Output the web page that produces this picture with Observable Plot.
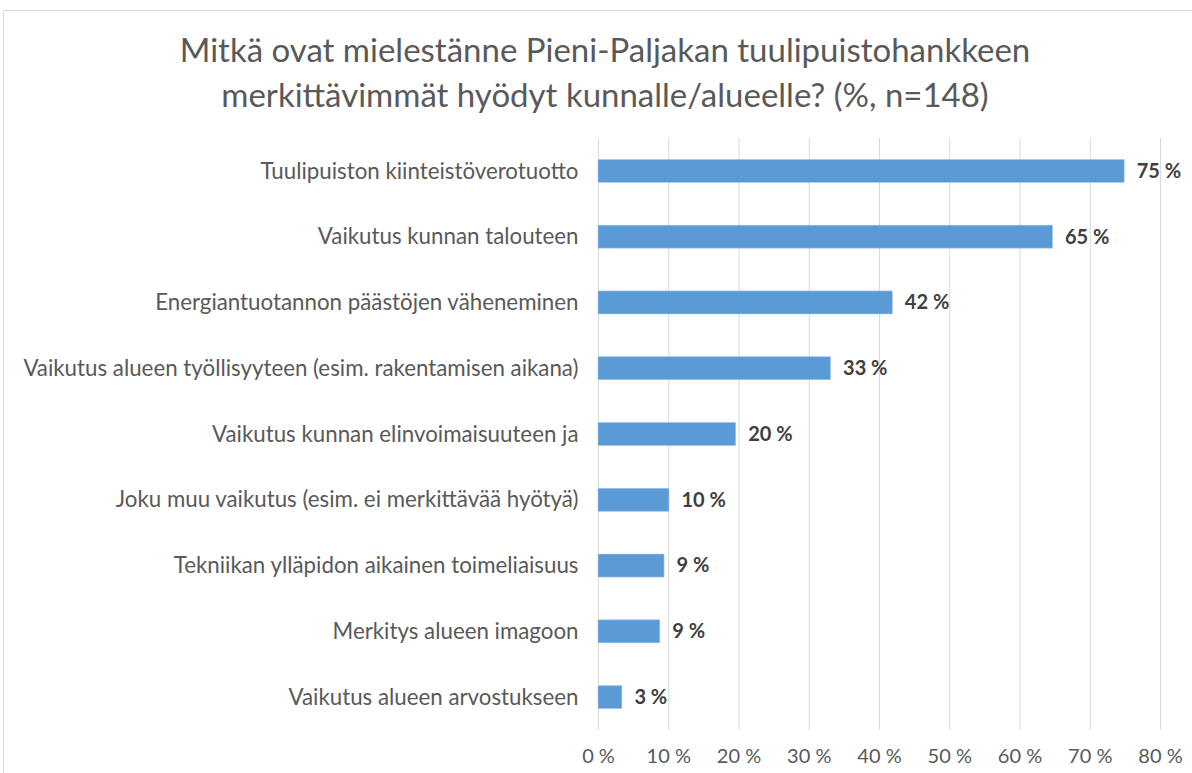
<!DOCTYPE html>
<html>
<head>
<meta charset="utf-8">
<script src="https://cdn.jsdelivr.net/npm/d3@7"></script>
<script src="https://cdn.jsdelivr.net/npm/@observablehq/plot@0.6"></script>
<style>
  html, body { margin: 0; padding: 0; background: #fff; overflow: hidden; }
  #frame { position: absolute; left: 3px; top: 10px; width: 1200px; height: 800px; border: 1px solid #d9d9d9; box-sizing: border-box; }
  #title { position: absolute; left: 0; top: 27px; width: 1210px; text-align: center; font-family: Lato, "Open Sans", sans-serif; font-size: 33px; line-height: 45px; color: #595959; }
  #chart { position: absolute; left: 0; top: 120px; }
</style>
</head>
<body>
<div id="frame"></div>
<div id="title">Mitkä ovat mielestänne Pieni-Paljakan tuulipuistohankkeen<br>merkittävimmät hyödyt kunnalle/alueelle? (%, n=148)</div>
<div id="chart"></div>
<script>
const categories = [
  "Tuulipuiston kiinteistöverotuotto",
  "Vaikutus kunnan talouteen",
  "Energiantuotannon päästöjen väheneminen",
  "Vaikutus alueen työllisyyteen (esim. rakentamisen aikana)",
  "Vaikutus kunnan elinvoimaisuuteen ja",
  "Joku muu vaikutus (esim. ei merkittävää hyötyä)",
  "Tekniikan ylläpidon aikainen toimeliaisuus",
  "Merkitys alueen imagoon",
  "Vaikutus alueen arvostukseen"
];
const values = [74.9, 64.7, 41.9, 33.1, 19.6, 10.1, 9.4, 8.8, 3.4];
const xTicks = [0, 10, 20, 30, 40, 50, 60, 70, 80];

const data = categories.map((c, i) => ({category: c, value: values[i]}));

const font = 'Lato, "Open Sans", sans-serif';
const chart = Plot.plot({
  width: 1192,
  height: 653,
  marginLeft: 598,
  marginRight: 32,
  marginTop: 18,
  marginBottom: 43,
  style: {fontFamily: font, fontSize: "20px", color: "#595959", background: "transparent"},
  x: {domain: [0, 80], ticks: xTicks, tickFormat: d => d + " %", label: null},
  y: {domain: categories, paddingInner: 0.65, paddingOuter: 0.325, round: false, label: null},
  marks: [
    Plot.gridX(xTicks, {stroke: "#d9d9d9", strokeOpacity: 1, strokeWidth: 1}),
    Plot.axisX({ticks: xTicks, tickFormat: d => d + " %", tickSize: 0, tickPadding: 18, label: null, fill: "#595959", fontSize: 20}),
    Plot.axisY({tickSize: 0, tickPadding: 20, label: null, fill: "#595959", fontSize: 22.3}),
    Plot.barX(data, {x: "value", y: "category", fill: "#5b9bd5", stroke: "#a9c8ea", strokeWidth: 0.6}),
    Plot.text(data, {x: "value", y: "category", text: d => Math.round(d.value) + " %", dx: 12, textAnchor: "start", fontWeight: "bold", fill: "#404040", fontSize: 20})
  ]
});
document.getElementById("chart").appendChild(chart);
</script>
</body>
</html>
